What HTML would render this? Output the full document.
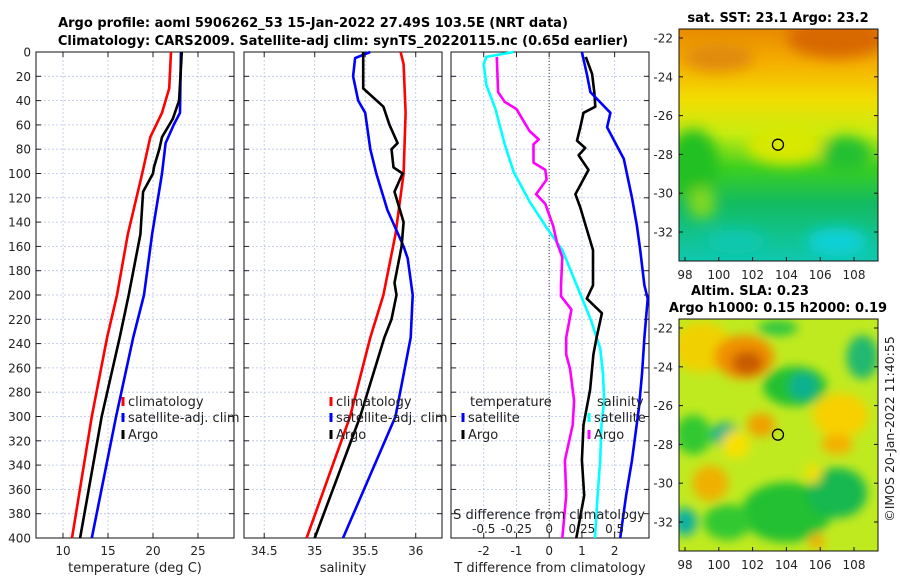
<!DOCTYPE html>
<html><head><meta charset="utf-8"><style>
html,body{margin:0;padding:0;background:#fff;}
svg{display:block;font-family:"DejaVu Sans","Liberation Sans",sans-serif;}
</style></head><body>
<svg id="fig" width="900" height="580" viewBox="0 0 900 580" xmlns="http://www.w3.org/2000/svg">
<defs>
<filter id="blur6" x="-50%" y="-50%" width="200%" height="200%"><feGaussianBlur stdDeviation="7"/></filter>
<filter id="blur3" x="-50%" y="-50%" width="200%" height="200%"><feGaussianBlur stdDeviation="5"/></filter>
<clipPath id="clipTop"><rect x="679" y="29" width="199" height="232"/></clipPath>
<clipPath id="clipBot"><rect x="679" y="319" width="199" height="232"/></clipPath>
<linearGradient id="sstGrad" x1="0" y1="0" x2="0" y2="1">
<stop offset="0" stop-color="#e88a00"/><stop offset="0.15" stop-color="#f5b000"/><stop offset="0.3" stop-color="#f2dc00"/><stop offset="0.45" stop-color="#c8ec10"/><stop offset="0.6" stop-color="#3ccf20"/><stop offset="0.75" stop-color="#12bb60"/><stop offset="1" stop-color="#10c8b0"/>
</linearGradient>
</defs>
<text x="313" y="27" text-anchor="middle" font-size="13" font-weight="bold" fill="#000">Argo profile: aoml 5906262_53 15-Jan-2022 27.49S 103.5E (NRT data)</text>
<text x="343" y="45" text-anchor="middle" font-size="13" font-weight="bold" fill="#000">Climatology: CARS2009. Satellite-adj clim: synTS_20220115.nc (0.65d earlier)</text>
<g id="panels"></g>
<g id="maps"></g>
</svg>
<script>
// depth axis
const depthTicks=[0,20,40,60,80,100,120,140,160,180,200,220,240,260,280,300,320,340,360,380,400];
// Panel 1 temperature
const tempTicks=[10,15,20,25];
const tClimDepth=[0,30,50,70,100,150,200,235,300,400];
const tClim=[22.0,21.8,21.0,19.7,18.8,17.2,16.0,14.9,13.2,11.0];
const tSatDepth=[0,50,60,75,100,150,200,235,300,400];
const tSat=[23.1,23.0,22.3,21.4,21.0,19.9,19.0,17.8,15.9,13.2];
const tArgoDepth=[0,40,55,70,80,95,100,115,150,200,235,300,400];
const tArgo=[23.2,22.9,22.2,21.0,20.7,20.1,20.0,18.9,18.6,17.3,16.3,14.3,11.9];
// Panel 2 salinity
const salTicks=[34.5,35,35.5,36];
const sClimDepth=[0,10,50,100,150,200,235,300,400];
const sClim=[35.85,35.88,35.9,35.88,35.8,35.68,35.55,35.35,34.92];
const sSatDepth=[0,5,20,40,50,80,100,130,160,170,200,235,300,400];
const sSat=[35.55,35.4,35.38,35.43,35.5,35.55,35.61,35.72,35.88,35.92,35.97,35.95,35.8,35.28];
const sArgoDepth=[0,30,45,60,75,80,95,100,115,140,160,190,200,220,235,300,400];
const sArgo=[35.48,35.48,35.68,35.74,35.82,35.76,35.78,35.87,35.79,35.88,35.86,35.79,35.81,35.76,35.69,35.45,35.0];
// Panel 3 differences
const dTTicks=[-2,-1,0,1,2];
const dSTicks=[-0.5,-0.25,0,0.25,0.5];
const dSSatDepth=[0,4,10,27,47,76,99,123,143,163,192,221,244,264,287,307,336,365,400];
const dSSat=[-0.27,-0.48,-0.50,-0.48,-0.41,-0.34,-0.27,-0.15,-0.03,0.10,0.21,0.32,0.39,0.41,0.42,0.40,0.39,0.37,0.35];
const dSArgoDepth=[4,33,41,47,65,72,76,91,97,105,117,125,143,157,169,192,201,212,235,249,261,287,307,336,365,400];
const dSArgo=[-0.40,-0.39,-0.34,-0.25,-0.15,-0.08,-0.12,-0.12,-0.03,-0.02,-0.10,-0.03,0.03,0.06,0.10,0.09,0.09,0.17,0.13,0.13,0.16,0.19,0.18,0.12,0.13,0.10];
const dTArgoDepth=[4,18,33,45,50,62,73,79,85,97,117,128,146,163,192,203,215,235,249,278,307,336,365,400];
const dTArgo=[1.12,1.31,1.38,1.41,1.05,0.95,0.85,1.1,0.9,1.2,0.80,0.95,1.15,1.34,1.34,1.15,1.61,1.45,1.35,1.25,1.05,1.0,1.07,0.83];
const dTSatDepth=[0,18,33,50,62,88,120,143,163,192,203,235,264,293,336,365,400];
const dTSat=[1.0,1.15,1.26,1.87,1.77,2.28,2.53,2.68,2.78,2.91,3.01,2.91,2.84,2.74,2.53,2.35,2.17];

const NS='http://www.w3.org/2000/svg';
function mk(tag,attrs,parent){const e=document.createElementNS(NS,tag);for(const k in attrs)e.setAttribute(k,attrs[k]);parent.appendChild(e);return e;}
const Y0=52,Y1=538;
function yD(d){return Y0+(d/400)*(Y1-Y0);}
const P=document.getElementById('panels');

function panel(name,x0,x1,vmin,vmax,ticks,fmt,xlabel){
  const g=mk('g',{},P);
  
  
  const sx=v=>x0+(v-vmin)/(vmax-vmin)*(x1-x0);
  depthTicks.forEach(d=>{
    const l=mk('line',{x1:x0,x2:x1,y1:yD(d),y2:yD(d),stroke:'#b8c4e8','stroke-width':0.8,'stroke-dasharray':'2,2'},g);
    
    
    mk('line',{x1:x0,x2:x0+5,y1:yD(d),y2:yD(d),stroke:'#222'},g);
    mk('line',{x1:x1-5,x2:x1,y1:yD(d),y2:yD(d),stroke:'#222'},g);
  });
  ticks.forEach(v=>{
    const l=mk('line',{x1:sx(v),x2:sx(v),y1:Y0,y2:Y1,stroke:'#b8c4e8','stroke-width':0.8,'stroke-dasharray':'2,2'},g);
    
    
    mk('line',{x1:sx(v),x2:sx(v),y1:Y1,y2:Y1-5,stroke:'#222'},g);
    mk('line',{x1:sx(v),x2:sx(v),y1:Y0,y2:Y0+5,stroke:'#222'},g);
    const t=mk('text',{x:sx(v),y:Y1+17,'text-anchor':'middle','font-size':12,fill:'#222'},g);
    t.textContent=fmt(v);
    
    
  });
  const b=mk('rect',{x:x0,y:Y0,width:x1-x0,height:Y1-Y0,fill:'none',stroke:'#111','stroke-width':1},g);
  
  
  if(xlabel){const t=mk('text',{x:(x0+x1)/2,y:572,'text-anchor':'middle','font-size':13,fill:'#222'},g);t.textContent=xlabel;
    
    }
  return {g,sx};
}
function series(p,name,depths,vals,color,sx){
  const pts=depths.map((d,i)=>sx(vals[i]).toFixed(1)+','+yD(d).toFixed(1)).join(' ');
  const l=mk('polyline',{points:pts,fill:'none',stroke:color,'stroke-width':2.6,'stroke-linejoin':'round'},p.g);
  
  
}
function legend(g,x,y,color,label,name){
  mk('line',{x1:x,x2:x,y1:y-9,y2:y,stroke:color,'stroke-width':3},g);
  const t=mk('text',{x:x+5,y:y,'font-size':13,fill:'#222'},g);t.textContent=label;
  
  
}

depthTicks.forEach(d=>{const t=mk('text',{x:31,y:yD(d)+4.5,'text-anchor':'end','font-size':12,fill:'#222'},P);t.textContent=d;
  
  });

const p1=panel('temperature-panel',36,234,7,29,tempTicks,v=>String(v),'temperature (deg C)');
series(p1,'temp-climatology-line',tClimDepth,tClim,'#ff0000',p1.sx);
series(p1,'temp-satellite-line',tSatDepth,tSat,'#0000ff',p1.sx);
series(p1,'temp-argo-line',tArgoDepth,tArgo,'#000000',p1.sx);
legend(p1.g,123,406,'#ff0000','climatology','legend-climatology');
legend(p1.g,123,422,'#0000ff','satellite-adj. clim','legend-satellite');
legend(p1.g,123,439,'#000000','Argo','legend-argo');

const p2=panel('salinity-panel',244,442,34.3,36.26,salTicks,v=>String(v),'salinity');
series(p2,'sal-climatology-line',sClimDepth,sClim,'#ff0000',p2.sx);
series(p2,'sal-satellite-line',sSatDepth,sSat,'#0000ff',p2.sx);
series(p2,'sal-argo-line',sArgoDepth,sArgo,'#000000',p2.sx);
legend(p2.g,331,406,'#ff0000','climatology','legend-climatology');
legend(p2.g,331,422,'#0000ff','satellite-adj. clim','legend-satellite');
legend(p2.g,331,439,'#000000','Argo','legend-argo');

const p3=panel('difference-panel',451,649,-3.0,3.05,dTTicks,v=>String(v),'T difference from climatology');
const sxS=v=>p3.sx(v*4);
mk('line',{x1:p3.sx(0),x2:p3.sx(0),y1:Y0,y2:Y1,stroke:'#444','stroke-width':1,'stroke-dasharray':'1,2'},p3.g);
series(p3,'dS-satellite-line',dSSatDepth,dSSat,'#00ffff',sxS);
series(p3,'dS-argo-line',dSArgoDepth,dSArgo,'#ff00ff',sxS);
series(p3,'dT-argo-line',dTArgoDepth,dTArgo,'#000000',p3.sx);
series(p3,'dT-satellite-line',dTSatDepth,dTSat,'#0000ff',p3.sx);
dSTicks.forEach(v=>{const t=mk('text',{x:sxS(v),y:533,'text-anchor':'middle','font-size':12,fill:'#222'},p3.g);t.textContent=String(v);
  
  });
(function(){const t=mk('text',{x:549,y:519,'text-anchor':'middle','font-size':13,fill:'#222'},p3.g);t.textContent='S difference from climatology';
  
  
  const t2=mk('text',{x:470,y:406,'font-size':13,fill:'#222'},p3.g);t2.textContent='temperature';
  
  
  const t3=mk('text',{x:597,y:406,'font-size':13,fill:'#222'},p3.g);t3.textContent='salinity';
  
  })();
legend(p3.g,463,422,'#0000ff','satellite','legend-t-satellite');
legend(p3.g,463,439,'#000000','Argo','legend-t-argo');
legend(p3.g,589,422,'#00ffff','satellite','legend-s-satellite');
legend(p3.g,589,439,'#ff00ff','Argo','legend-s-argo');

// Maps
const M=document.getElementById('maps');
const lonTicks=[98,100,102,104,106,108];
const latTicks=[-22,-24,-26,-28,-30,-32];
const sstBlobs=[[107,-22,'#d86800',50,20],[100,-23,'#e08a10',35,14],[98.5,-28.5,'#22c020',25,35],[104,-27.5,'#d8e800',40,20],[107.5,-28,'#20c030',25,18],[107,-32.5,'#10d0d8',30,14],[101,-32.5,'#10c8b0',30,12],[99,-30.5,'#80d820',14,16]];
const slaBlobs=[
 [99,-23,'#f0d000',30,25],[101.5,-23.5,'#f09000',30,22],[101.7,-23.8,'#c85a00',16,12],
 [104.5,-25,'#20c030',32,20],[105,-25,'#10b090',14,14],[108.5,-23.5,'#20b870',16,22],
 [98.5,-27.5,'#30c830',18,20],[100.4,-27.5,'#10b090',14,12],[102.5,-27,'#f0a000',14,12],
 [101,-28,'#f8e000',14,14],[99.5,-30,'#f0b000',18,18],
 [107.2,-26.5,'#f8d000',28,22],[107,-28,'#f4b000',16,10],
 [104,-31.5,'#20c030',45,30],[107,-30.5,'#18b850',30,25],[98,-32,'#10b0a0',12,14],[100.5,-32,'#30c830',24,18],
 [103.5,-22,'#30c840',20,8],[105.8,-33,'#f0b000',8,8],[105.6,-29.5,'#f0e000',8,10]];
function mapAxes(name,y0,base,blobs,clip,filt){
  const g=mk('g',{},M);
  
  
  const sx=v=>685+(v-98)*(854-685)/10;
  const sy=v=>y0+9+(-22-v)*19.4;
  const cg=mk('g',{'clip-path':'url(#'+clip+')'},g);
  mk('rect',{x:679,y:y0,width:199,height:232,fill:base},cg);
  const bg=mk('g',{filter:'url(#'+filt+')'},cg);
  blobs.forEach(b=>{mk('ellipse',{cx:sx(b[0]),cy:sy(b[1]),rx:b[3],ry:b[4],fill:b[2]},bg);});
  mk('circle',{cx:sx(103.5),cy:sy(-27.5),r:5.5,fill:'none',stroke:'#000','stroke-width':1.3},g);
  mk('rect',{x:679,y:y0,width:199,height:232,fill:'none',stroke:'#111'},g);
  lonTicks.forEach(v=>{mk('line',{x1:sx(v),x2:sx(v),y1:y0+232,y2:y0+228,stroke:'#111'},g);
    const t=mk('text',{x:sx(v),y:y0+250,'text-anchor':'middle','font-size':12,fill:'#222'},g);t.textContent=v;
    
    });
  latTicks.forEach(v=>{mk('line',{x1:878,x2:874,y1:sy(v),y2:sy(v),stroke:'#111'},g);mk('line',{x1:679,x2:683,y1:sy(v),y2:sy(v),stroke:'#111'},g);
    const t=mk('text',{x:673,y:sy(v)+4.5,'text-anchor':'end','font-size':12,fill:'#222'},g);t.textContent=v;
    
    });
  return g;
}
const g1=mapAxes('sst-map',29,'url(#sstGrad)',sstBlobs,'clipTop','blur6');
const g2=mapAxes('sla-map',319,'#c0ea20',slaBlobs,'clipBot','blur3');
function txt(g,x,y,s,name){const t=mk('text',{x:x,y:y,'text-anchor':'middle','font-size':13,'font-weight':'bold',fill:'#000'},g);t.textContent=s;
  
  return t;}
txt(g1,778,22,'sat. SST: 23.1 Argo: 23.2','sst-map-title');
txt(g2,750,295,'Altim. SLA: 0.23','sla-map-title');
txt(g2,778,312,'Argo h1000: 0.15 h2000: 0.19','sla-map-subtitle');
const cr=mk('text',{x:0,y:0,'font-size':12.5,fill:'#222','text-anchor':'middle',transform:'translate(894,429) rotate(-90)'},M);
cr.textContent='©IMOS 20-Jan-2022 11:40:55';


</script>
</body></html>
